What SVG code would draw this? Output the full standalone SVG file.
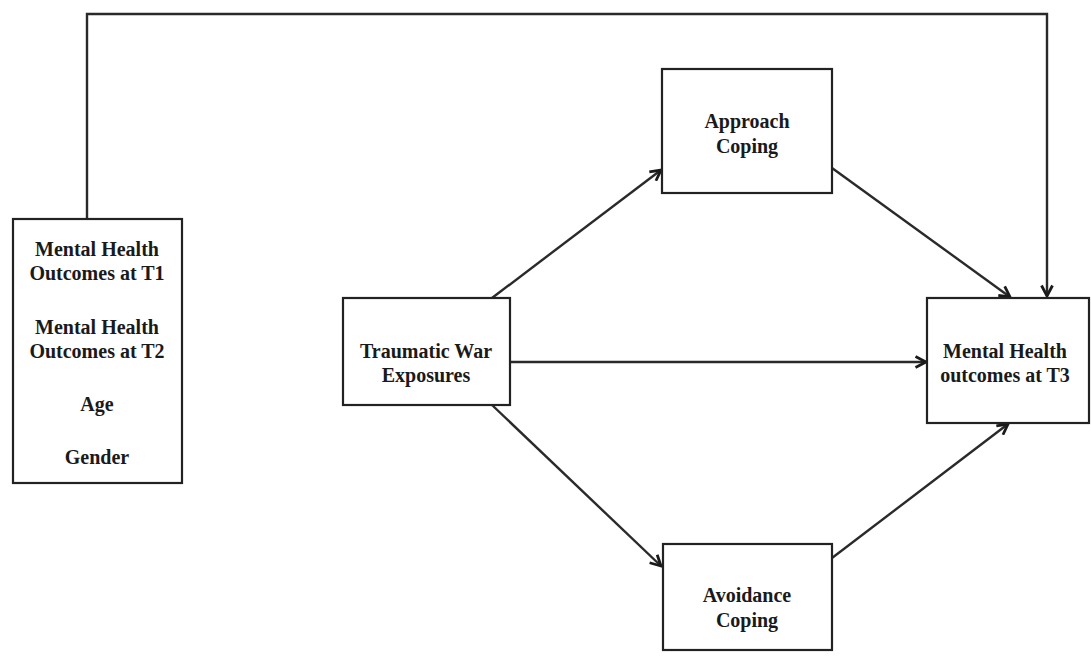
<svg xmlns="http://www.w3.org/2000/svg" width="1091" height="664" viewBox="0 0 1091 664">
<style>
.box{fill:#fff;stroke:#222;stroke-width:2.2}
.t{font-family:"Liberation Serif","DejaVu Serif",serif;font-size:20px;font-weight:bold;fill:#1a1a1a;text-anchor:middle}
.c{fill:none;stroke:#2a2a2a;stroke-width:2.4}
</style>
<defs>
<marker id="ah" viewBox="0 0 14 14" refX="12.5" refY="7" markerWidth="14" markerHeight="14" markerUnits="userSpaceOnUse" orient="auto">
<path d="M2,1.5 L12.5,7 L2,12.5" fill="none" stroke="#1a1a1a" stroke-width="2.8"/>
</marker>
</defs>
<rect width="1091" height="664" fill="#fff"/>
<g id="connectors">
<polyline class="c" points="87,219 87,14 1047,14 1047,296" marker-end="url(#ah)"/>
<line class="c" x1="492" y1="298" x2="661" y2="170" marker-end="url(#ah)"/>
<line class="c" x1="510" y1="362" x2="926" y2="362" marker-end="url(#ah)"/>
<line class="c" x1="492" y1="405" x2="661" y2="566" marker-end="url(#ah)"/>
<line class="c" x1="832" y1="168" x2="1010" y2="297" marker-end="url(#ah)"/>
<line class="c" x1="832" y1="558" x2="1008" y2="424" marker-end="url(#ah)"/>
</g>
<g id="covariates">
<rect class="box" x="13" y="219" width="169" height="264"/>
<text class="t" x="97" y="256">Mental Health</text>
<text class="t" x="97" y="280">Outcomes at T1</text>
<text class="t" x="97" y="334">Mental Health</text>
<text class="t" x="97" y="358">Outcomes at T2</text>
<text class="t" x="97" y="411">Age</text>
<text class="t" x="97" y="464">Gender</text>
</g>
<g id="approach">
<rect class="box" x="662" y="69" width="170" height="124"/>
<text class="t" x="747" y="128">Approach</text>
<text class="t" x="747" y="153">Coping</text>
</g>
<g id="trauma">
<rect class="box" x="343" y="298" width="167" height="107"/>
<text class="t" x="426" y="358">Traumatic War</text>
<text class="t" x="426" y="382">Exposures</text>
</g>
<g id="outcome">
<rect class="box" x="927" y="298" width="162" height="125"/>
<text class="t" x="1005" y="358">Mental Health</text>
<text class="t" x="1005" y="382">outcomes at T3</text>
</g>
<g id="avoidance">
<rect class="box" x="663" y="544" width="169" height="106"/>
<text class="t" x="747" y="602">Avoidance</text>
<text class="t" x="747" y="627">Coping</text>
</g>
</svg>
